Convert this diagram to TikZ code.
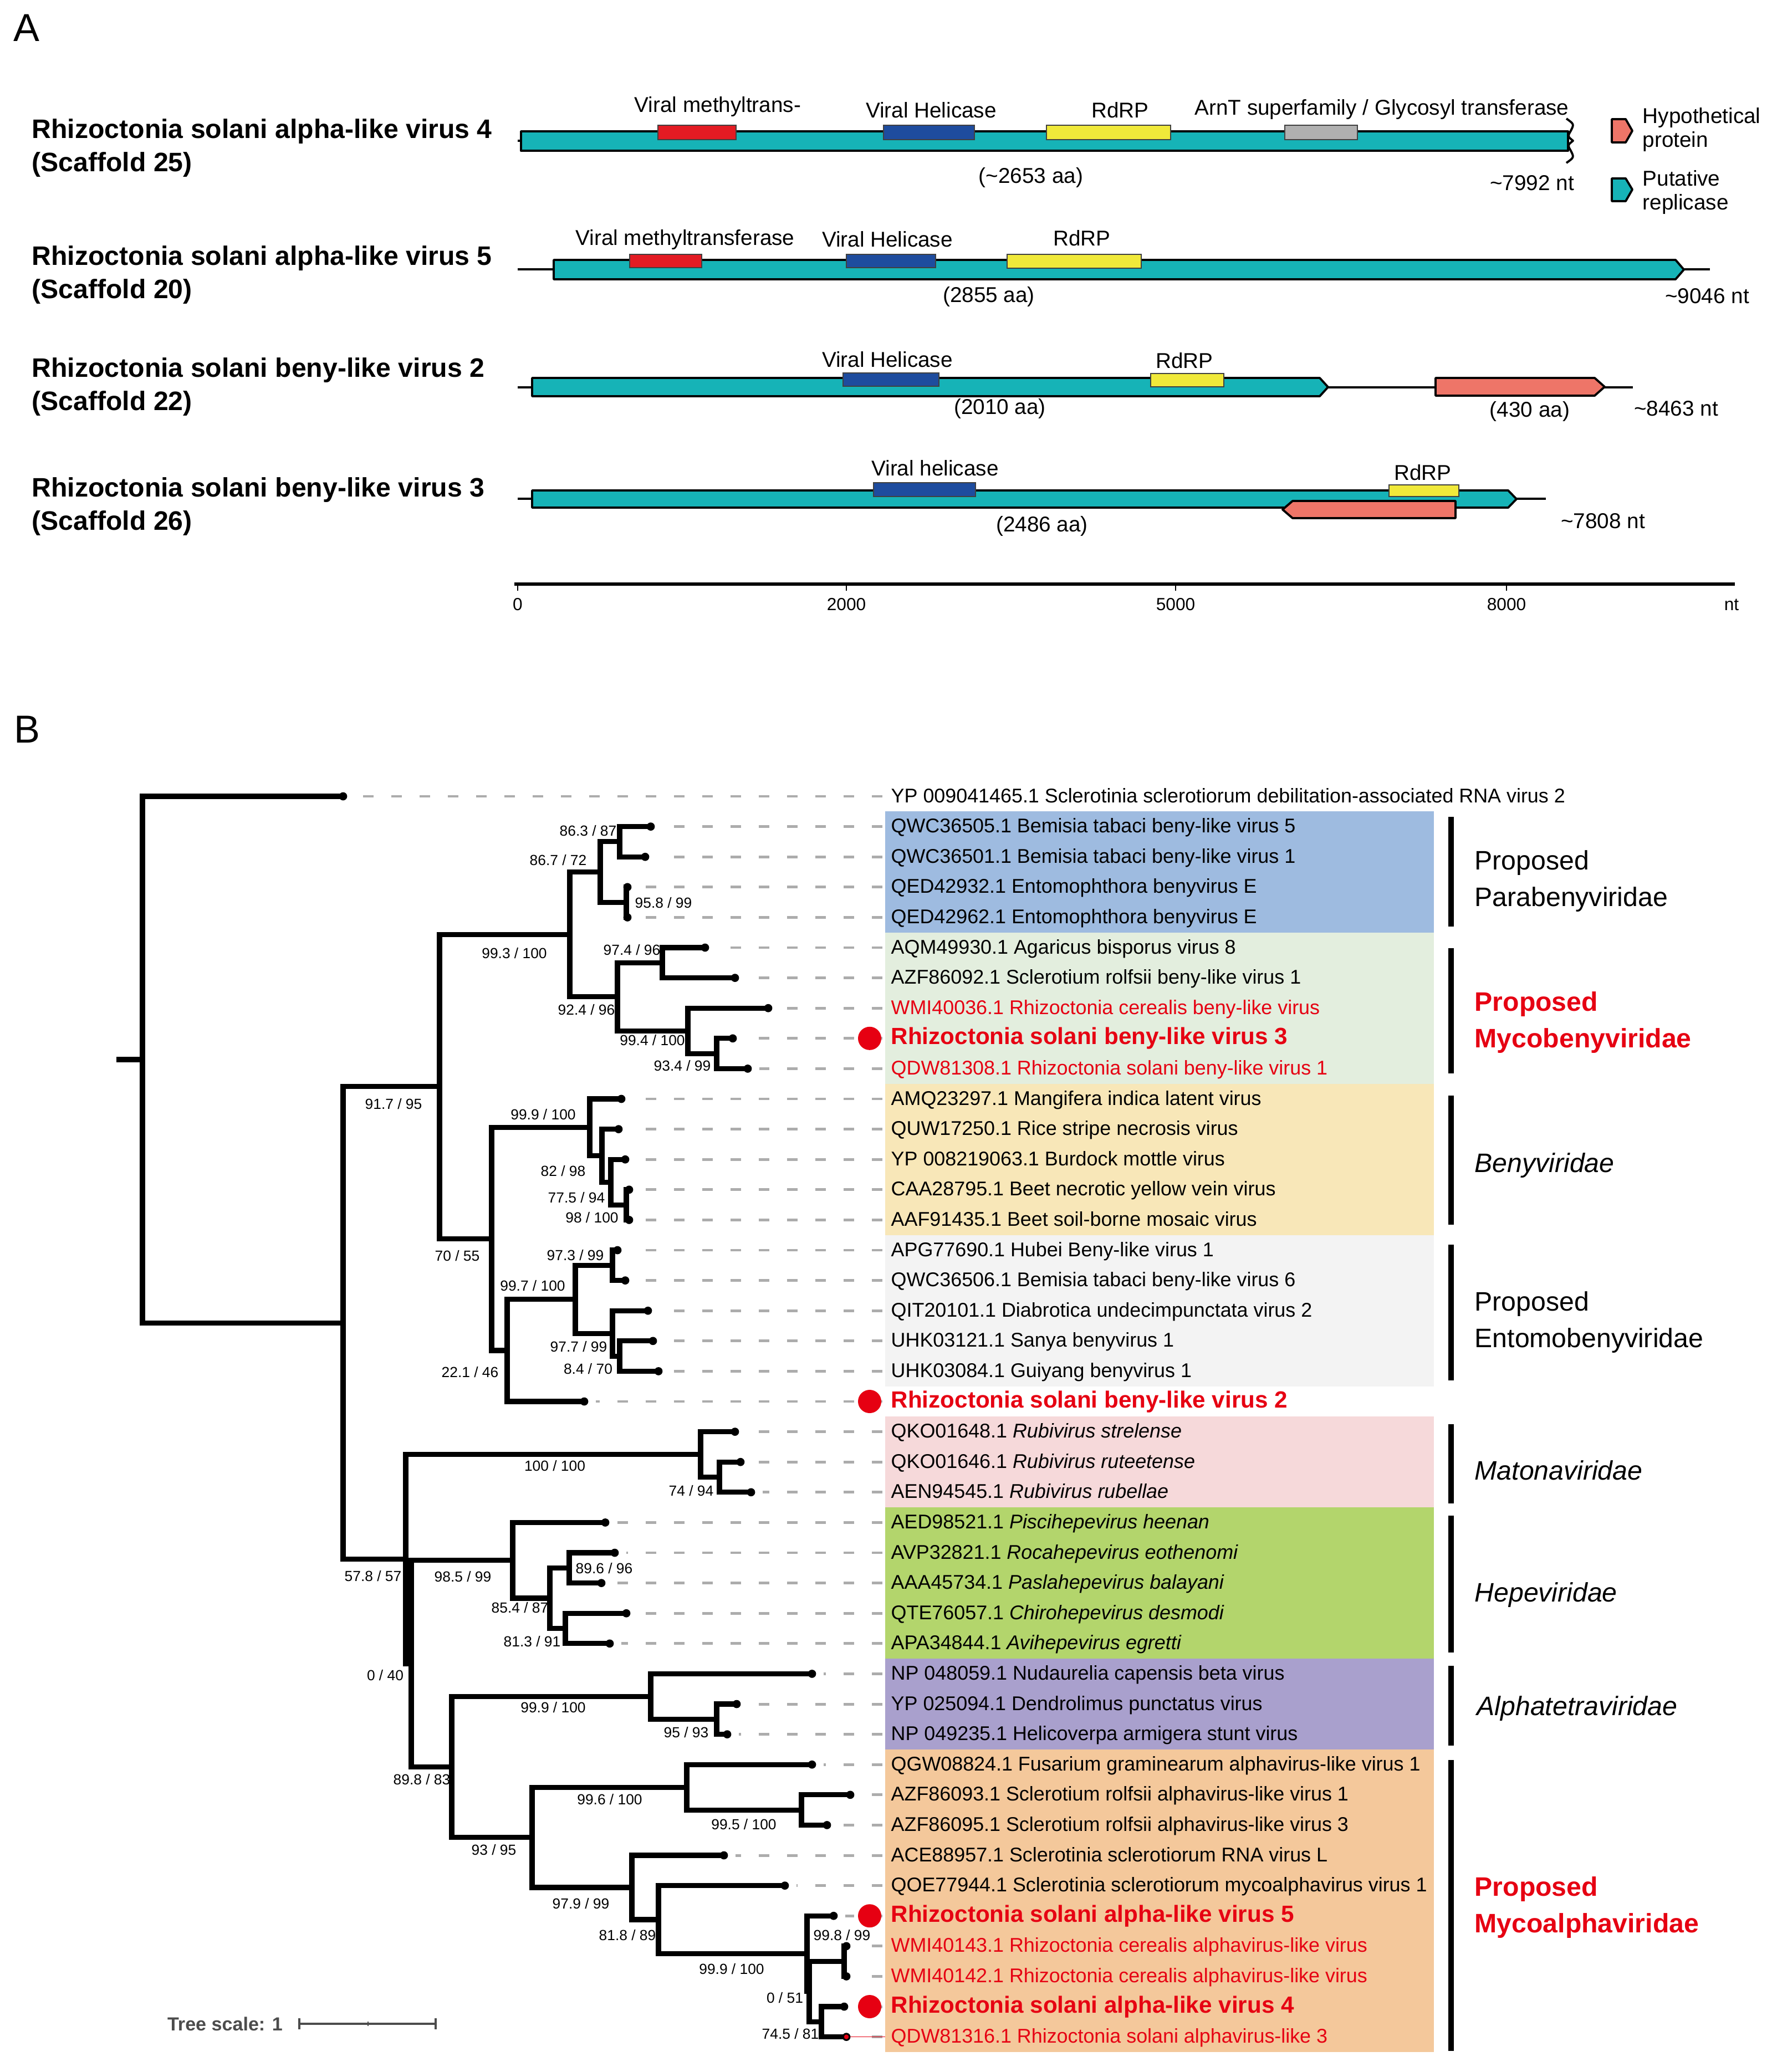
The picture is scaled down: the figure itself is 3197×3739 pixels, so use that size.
\documentclass[tikz,border=0pt]{standalone}
\usepackage{fontspec}
\setmainfont{Liberation Sans}
\definecolor{repl}{RGB}{22,179,183}
\definecolor{hypo}{RGB}{238,117,104}
\definecolor{mtred}{RGB}{227,27,35}
\definecolor{helblue}{RGB}{30,76,158}
\definecolor{rdrpyel}{RGB}{240,233,58}
\definecolor{arngray}{RGB}{176,176,176}
\definecolor{hired}{RGB}{230,0,18}
\definecolor{leadgray}{RGB}{172,172,172}
\definecolor{bandblue}{RGB}{158,187,224}
\definecolor{bandmint}{RGB}{227,238,222}
\definecolor{bandsand}{RGB}{248,231,184}
\definecolor{bandgray}{RGB}{243,243,243}
\definecolor{bandpink}{RGB}{246,217,218}
\definecolor{bandlime}{RGB}{179,213,108}
\definecolor{bandlilac}{RGB}{169,160,205}
\definecolor{bandpeach}{RGB}{244,200,155}
\tikzset{
  orf/.style={draw=black, line width=1.1pt, line join=round, fill=repl},
  hyporf/.style={orf, fill=hypo},
  genome/.style={line width=1.3pt},
  dombox/.style={draw=black!75, line width=0.5pt},
  domlab/.style={inner sep=0pt, font=\fontsize{11}{13}\selectfont},
  seqname/.style={anchor=west, align=left, inner sep=0pt, font=\fontsize{13.7}{16.8}\selectfont\bfseries},
  branch/.style={line width=2.6pt, line cap=rect},
  leader/.style={draw=leadgray, line width=1.4pt, dash pattern=on 5.4pt off 9.1pt, shorten <=1.4pt, shorten >=6pt},
  leaf/.style={anchor=west, inner xsep=0.1cm, inner ysep=0pt, text height=1.6ex, text depth=0.4ex, font=\fontsize{10.2}{12}\selectfont},
  redleaf/.style={leaf, text=hired},
  boldleaf/.style={leaf, text=hired, font=\fontsize{12}{14}\selectfont\bfseries},
  boot/.style={inner sep=0pt, font=\fontsize{7.5}{9}\selectfont},
  hidot/.style={circle, fill=hired, minimum size=0.42cm, inner sep=0pt},
  famline/.style={line width=3pt},
  famlab/.style={anchor=west, align=left, inner sep=0pt, font=\fontsize{13.7}{18.8}\selectfont},
}
\begin{document}
\begin{tikzpicture}[x=0.01cm, y=-0.01cm]
\useasboundingbox (0,0) rectangle (3197,3739);

% ---------- panel A: genome maps ----------
\node (labA) at (48,50) {\fontsize{20}{24}\selectfont A};
\node[seqname] (s1) at (57,267) {Rhizoctonia solani alpha-like virus 4\\(Scaffold 25)};
\node[seqname] (s2) at (57,496) {Rhizoctonia solani alpha-like virus 5\\(Scaffold 20)};
\node[seqname] (s3) at (57,698) {Rhizoctonia solani beny-like virus 2\\(Scaffold 22)};
\node[seqname] (s4) at (57,914) {Rhizoctonia solani beny-like virus 3\\(Scaffold 26)};

% alpha-like virus 4
\draw[genome] (934,254) -- (942,254);
\draw[orf] (940,237) rectangle (2829,272);
\draw[line width=1.1pt, line join=round] (2826,214) .. controls (2840,224) .. (2834,236) .. controls (2828,246) .. (2838,254) .. controls (2828,262) .. (2834,272) .. controls (2840,284) .. (2826,294);
\draw[dombox, fill=mtred] (1187,226) rectangle (1328,252);
\draw[dombox, fill=helblue] (1594,226) rectangle (1758,252);
\draw[dombox, fill=rdrpyel] (1888,226) rectangle (2112,252);
\draw[dombox, fill=arngray] (2318,226) rectangle (2449,252);
\node[domlab] (d11) at (1295,192) {Viral methyltrans-};
\node[domlab] (d12) at (1680,199) {Viral Helicase};
\node[domlab] (d13) at (2021,199) {RdRP};
\node[domlab] (d14) at (2493,197) {ArnT superfamily / Glycosyl transferase};
\node[domlab] (a1) at (1860,320) {(\textasciitilde 2653 aa)};
\node[domlab] (n1) at (2764,330) {\textasciitilde 7992 nt};

% alpha-like virus 5
\draw[genome] (934,486) -- (3085,486);
\draw[orf] (999,469) -- (3023,469) -- (3038,486.5) -- (3023,504) -- (999,504) -- cycle;
\draw[dombox, fill=mtred] (1136,459) rectangle (1266,483);
\draw[dombox, fill=helblue] (1527,459) rectangle (1688,483);
\draw[dombox, fill=rdrpyel] (1817,459) rectangle (2059,484);
\node[domlab] (d21) at (1236,432) {Viral methyltransferase};
\node[domlab] (d22) at (1601,432) {Viral Helicase};
\node[domlab] (d23) at (1952,430) {RdRP};
\node[domlab] (a2) at (1784,535) {(2855 aa)};
\node[domlab] (n2) at (3080,534) {\textasciitilde 9046 nt};

% beny-like virus 2
\draw[genome] (934,699) -- (2946,699);
\draw[orf] (960,682) -- (2381,682) -- (2396,698.5) -- (2381,715) -- (960,715) -- cycle;
\draw[hyporf] (2590,682) -- (2877,682) -- (2895,698) -- (2877,714) -- (2590,714) -- cycle;
\draw[dombox, fill=helblue] (1521,673) rectangle (1694,697);
\draw[dombox, fill=rdrpyel] (2076,674) rectangle (2208,698);
\node[domlab] (d31) at (1601,649) {Viral Helicase};
\node[domlab] (d32) at (2137,651) {RdRP};
\node[domlab] (a3) at (1804,737) {(2010 aa)};
\node[domlab] (a3b) at (2760,742) {(430 aa)};
\node[domlab] (n3) at (3024,737) {\textasciitilde 8463 nt};

% beny-like virus 3
\draw[genome] (934,900) -- (2789,900);
\draw[orf] (960,885) -- (2721,885) -- (2736,900.5) -- (2721,916) -- (960,916) -- cycle;
\draw[hyporf] (2332,904) -- (2626,904) -- (2626,935) -- (2332,935) -- (2314,919.5) -- cycle;
\draw[dombox, fill=helblue] (1576,871) rectangle (1760,896);
\draw[dombox, fill=rdrpyel] (2506,875) rectangle (2632,896);
\node[domlab] (d41) at (1687,845) {Viral helicase};
\node[domlab] (d42) at (2567,853) {RdRP};
\node[domlab] (a4) at (1880,949) {(2486 aa)};
\node[domlab] (n4) at (2892,940) {\textasciitilde 7808 nt};

% legend
\draw[hyporf] (2908,215) -- (2933,215) -- (2945,236) -- (2933,257) -- (2908,257) -- cycle;
\draw[orf] (2908,322) -- (2933,322) -- (2945,342) -- (2933,363) -- (2908,363) -- cycle;
\node[domlab, anchor=west, align=left, font=\fontsize{11}{12.2}\selectfont] (lg1) at (2963,234) {Hypothetical\\protein};
\node[domlab, anchor=west, align=left, font=\fontsize{11}{12.2}\selectfont] (lg2) at (2963,347) {Putative\\replicase};

% nt axis
\draw[line width=1.6pt] (928,1054) -- (3130,1054);
\foreach \tx/\tl [count=\k] in {934/0, 1527/2000, 2121/5000, 2718/8000}{
  \draw[line width=0.8pt] (\tx,1054) -- (\tx,1066);
  \node[inner sep=0pt, font=\fontsize{9}{11}\selectfont] (ax\k) at (\tx,1091) {\tl};
}
\node[inner sep=0pt, font=\fontsize{9}{11}\selectfont] (axnt) at (3124,1091) {nt};

% ---------- panel B: tree ----------
\node (labB) at (49,1316) {\fontsize{20}{24}\selectfont B};

% clade bands
\fill[bandblue]  (1597,1464.3) rectangle (2587,1682.7);
\fill[bandmint]  (1597,1682.7) rectangle (2587,1955.7);
\fill[bandsand]  (1597,1955.7) rectangle (2587,2228.7);
\fill[bandgray]  (1597,2228.7) rectangle (2587,2501.7);
\fill[bandpink]  (1597,2556.3) rectangle (2587,2720.1);
\fill[bandlime]  (1597,2720.1) rectangle (2587,2993.1);
\fill[bandlilac] (1597,2993.1) rectangle (2587,3156.9);
\fill[bandpeach] (1597,3156.9) rectangle (2587,3702.9);

% leaves: row / tip x / style / label
\foreach \i/\tx/\sty/\txt in {
  1/619/leaf/{YP 009041465.1 Sclerotinia sclerotiorum debilitation-associated RNA virus 2},
  2/1174/leaf/{QWC36505.1 Bemisia tabaci beny-like virus 5},
  3/1164/leaf/{QWC36501.1 Bemisia tabaci beny-like virus 1},
  4/1132/leaf/{QED42932.1 Entomophthora benyvirus E},
  5/1132/leaf/{QED42962.1 Entomophthora benyvirus E},
  6/1272/leaf/{AQM49930.1 Agaricus bisporus virus 8},
  7/1326/leaf/{AZF86092.1 Sclerotium rolfsii beny-like virus 1},
  8/1386/redleaf/{WMI40036.1 Rhizoctonia cerealis beny-like virus},
  9/1322/boldleaf/{Rhizoctonia solani beny-like virus 3},
  10/1349/redleaf/{QDW81308.1 Rhizoctonia solani beny-like virus 1},
  11/1121/leaf/{AMQ23297.1 Mangifera indica latent virus},
  12/1116/leaf/{QUW17250.1 Rice stripe necrosis virus},
  13/1128/leaf/{YP 008219063.1 Burdock mottle virus},
  14/1135/leaf/{CAA28795.1 Beet necrotic yellow vein virus},
  15/1135/leaf/{AAF91435.1 Beet soil-borne mosaic virus},
  16/1114/leaf/{APG77690.1 Hubei Beny-like virus 1},
  17/1128/leaf/{QWC36506.1 Bemisia tabaci beny-like virus 6},
  18/1169/leaf/{QIT20101.1 Diabrotica undecimpunctata virus 2},
  19/1178/leaf/{UHK03121.1 Sanya benyvirus 1},
  20/1188/leaf/{UHK03084.1 Guiyang benyvirus 1},
  21/1054/boldleaf/{Rhizoctonia solani beny-like virus 2},
  22/1326/leaf/{QKO01648.1 \textit{Rubivirus strelense}},
  23/1336/leaf/{QKO01646.1 \textit{Rubivirus ruteetense}},
  24/1355/leaf/{AEN94545.1 \textit{Rubivirus rubellae}},
  25/1092/leaf/{AED98521.1 \textit{Piscihepevirus heenan}},
  26/1109/leaf/{AVP32821.1 \textit{Rocahepevirus eothenomi}},
  27/1085/leaf/{AAA45734.1 \textit{Paslahepevirus balayani}},
  28/1130/leaf/{QTE76057.1 \textit{Chirohepevirus desmodi}},
  29/1100/leaf/{APA34844.1 \textit{Avihepevirus egretti}},
  30/1465/leaf/{NP 048059.1 Nudaurelia capensis beta virus},
  31/1329/leaf/{YP 025094.1 Dendrolimus punctatus virus},
  32/1312/leaf/{NP 049235.1 Helicoverpa armigera stunt virus},
  33/1465/leaf/{QGW08824.1 Fusarium graminearum alphavirus-like virus 1},
  34/1534/leaf/{AZF86093.1 Sclerotium rolfsii alphavirus-like virus 1},
  35/1492/leaf/{AZF86095.1 Sclerotium rolfsii alphavirus-like virus 3},
  36/1306/leaf/{ACE88957.1 Sclerotinia sclerotiorum RNA virus L},
  37/1416/leaf/{QOE77944.1 Sclerotinia sclerotiorum mycoalphavirus virus 1},
  38/1504/boldleaf/{Rhizoctonia solani alpha-like virus 5},
  39/1527/redleaf/{WMI40143.1 Rhizoctonia cerealis alphavirus-like virus},
  40/1527/redleaf/{WMI40142.1 Rhizoctonia cerealis alphavirus-like virus},
  41/1523/boldleaf/{Rhizoctonia solani alpha-like virus 4},
  42/1527/redleaf/{QDW81316.1 Rhizoctonia solani alphavirus-like 3}}{
  \pgfmathsetmacro\ry{1437+54.6*(\i-1)}
  \coordinate (t\i) at (\tx,\ry);
  \node[\sty] (l\i) at (1597,\ry) {\txt};
}

% internal nodes
\coordinate (stub) at (215,1912);
\coordinate (root) at (257,1912);
\coordinate (nA) at (619,2387.1);
\coordinate (nB) at (793,1960.8);
\coordinate (nD) at (1028,1686.1);
\coordinate (nF) at (1083,1573.5);
\coordinate (nH) at (1118,1518.9);
\coordinate (nI) at (1130,1628.1);
\coordinate (nG) at (1114,1798.7);
\coordinate (nJ) at (1195,1737.3);
\coordinate (nK) at (1241,1860.15);
\coordinate (nL) at (1293,1901.1);
\coordinate (nE) at (887,2235.5);
\coordinate (nM) at (1064,2034.2);
\coordinate (nO) at (1086,2085.4);
\coordinate (nP) at (1102,2133.15);
\coordinate (nQ) at (1130,2174.1);
\coordinate (nN) at (915,2436.9);
\coordinate (nR) at (1038,2344.7);
\coordinate (nS) at (1105,2283.3);
\coordinate (nT) at (1105,2406.15);
\coordinate (nU) at (1118,2447.1);
\coordinate (nC) at (732,2813.3);
\coordinate (nV) at (1264,2624.6);
\coordinate (nY) at (1298,2665.5);
\coordinate (nW) at (742,3002.1);
\coordinate (nZ) at (925,2815.65);
\coordinate (nAA) at (992,2883.9);
\coordinate (nAB) at (1027,2829.3);
\coordinate (nAC) at (1020,2938.5);
\coordinate (nX) at (815,3188.5);
\coordinate (nAD) at (1174,3061.35);
\coordinate (nAF) at (1293,3102.3);
\coordinate (nAE) at (960,3315.6);
\coordinate (nAG) at (1239,3225.15);
\coordinate (nAI) at (1446,3266.1);
\coordinate (nAH) at (1140,3406);
\coordinate (nAJ) at (1188,3464);
\coordinate (nAK) at (1456,3525.45);
\coordinate (nAO) at (1460,3593.7);
\coordinate (nAN) at (1523,3539.1);
\coordinate (nAM) at (1482,3648.3);

% dashed leaders, drawn from the label back to the tip
\foreach \i in {1,...,42}
  \draw[leader] (l\i.west) -- (t\i);
\draw[hired, line width=0.4pt] (t42) -- (l42.west);

% branches
\draw[branch] (stub) -- (root);
\foreach \p/\c in {root/t1, root/nA, nA/nB, nA/nC, nB/nD, nB/nE, nD/nF, nD/nG,
  nF/nH, nF/nI, nH/t2, nH/t3, nI/t4, nI/t5, nG/nJ, nG/nK, nJ/t6, nJ/t7,
  nK/t8, nK/nL, nL/t9, nL/t10, nE/nM, nE/nN, nM/t11, nM/nO, nO/t12, nO/nP,
  nP/t13, nP/nQ, nQ/t14, nQ/t15, nN/nR, nN/t21, nR/nS, nR/nT, nS/t16, nS/t17,
  nT/t18, nT/nU, nU/t19, nU/t20, nC/nV, nC/nW, nV/t22, nV/nY, nY/t23, nY/t24,
  nW/nZ, nW/nX, nZ/t25, nZ/nAA, nAA/nAB, nAA/nAC, nAB/t26, nAB/t27, nAC/t28,
  nAC/t29, nX/nAD, nX/nAE, nAD/t30, nAD/nAF, nAF/t31, nAF/t32, nAE/nAG,
  nAE/nAH, nAG/t33, nAG/nAI, nAI/t34, nAI/t35, nAH/t36, nAH/nAJ, nAJ/t37,
  nAJ/nAK, nAK/t38, nAK/nAO, nAO/nAN, nAO/nAM, nAN/t39, nAN/t40, nAM/t41, nAM/t42}
  \draw[branch] (\p) |- (\c);
\foreach \i in {1,...,42}
  \fill (t\i) circle (2.1pt);
\fill[hired] (t42) circle (1.2pt);

% highlighted sequences
\foreach \i in {9,21,38,41}
  \path (l\i.west) ++(-28,0) node[hidot] (dot\i) {};

% support values
\foreach \bx/\by/\sa/\sb [count=\n] in {
  1061/1499/86.3/87, 1007/1552/86.7/72, 1197/1629/95.8/99, 928/1720/99.3/100,
  1140/1714/97.4/96, 1058/1822/92.4/96, 1177/1877/99.4/100, 1231/1923/93.4/99,
  710/1992/91.7/95, 980/2011/99.9/100, 1016/2113/82/98, 1040/2161/77.5/94,
  1068/2197/98/100, 825/2266/70/55, 1038/2265/97.3/99, 961/2320/99.7/100,
  1044/2430/97.7/99, 1061/2470/8.4/70, 848/2476/22.1/46, 1001/2645/100/100,
  1247/2690/74/94, 673/2844/57.8/57, 1090/2830/89.6/96, 835/2845/98.5/99,
  938/2901/85.4/87, 960/2962/81.3/91, 695/3023/0/40, 998/3081/99.9/100,
  1238/3126/95/93, 761/3211/89.8/83, 1100/3247/99.6/100, 1342/3292/99.5/100,
  891/3338/93/95, 1048/3435/97.9/99, 1132/3492/81.8/89, 1519/3492/99.8/99,
  1320/3553/99.9/100, 1416/3605/0/51, 1426/3670/74.5/81}
  \node[boot] (sup\n) at (\bx,\by) {\sa{} / \sb};

% families
\draw[famline] (2618,1474) -- (2618,1672);
\draw[famline] (2618,1711) -- (2618,1937);
\draw[famline] (2618,1977) -- (2618,2210);
\draw[famline] (2618,2246) -- (2618,2491);
\draw[famline] (2618,2570) -- (2618,2713);
\draw[famline] (2618,2735) -- (2618,2982);
\draw[famline] (2618,3006) -- (2618,3150);
\draw[famline] (2618,3176) -- (2618,3701);
\node[famlab] (f1) at (2660,1590) {Proposed\\Parabenyviridae};
\node[famlab, text=hired, font=\fontsize{13.7}{18.8}\selectfont\bfseries] (f2) at (2660,1845) {Proposed\\Mycobenyviridae};
\node[famlab, font=\fontsize{13.7}{18.8}\selectfont\itshape] (f3) at (2660,2103) {Benyviridae};
\node[famlab] (f4) at (2660,2386) {Proposed\\Entomobenyviridae};
\node[famlab, font=\fontsize{13.7}{18.8}\selectfont\itshape] (f5) at (2660,2653) {Matonaviridae};
\node[famlab, font=\fontsize{13.7}{18.8}\selectfont\itshape] (f6) at (2660,2878) {Hepeviridae};
\node[famlab, font=\fontsize{13.7}{18.8}\selectfont\itshape] (f7) at (2664,3083) {Alphatetraviridae};
\node[famlab, text=hired, font=\fontsize{13.7}{18.8}\selectfont\bfseries] (f8) at (2660,3442) {Proposed\\Mycoalphaviridae};

% tree scale
\node[inner sep=0pt, text=black!70, font=\fontsize{9.7}{11}\selectfont\bfseries] (tscale) at (406,3652) {Tree scale: 1};
\draw[black!70, line width=1.1pt] (540,3652) -- (786,3652);
\draw[black!70, line width=1.1pt] (540,3642) -- (540,3662);
\draw[black!70, line width=1.1pt] (786,3642) -- (786,3662);
\draw[black!70, line width=0.8pt] (664,3648) -- (664,3656);
\end{tikzpicture}
\end{document}
